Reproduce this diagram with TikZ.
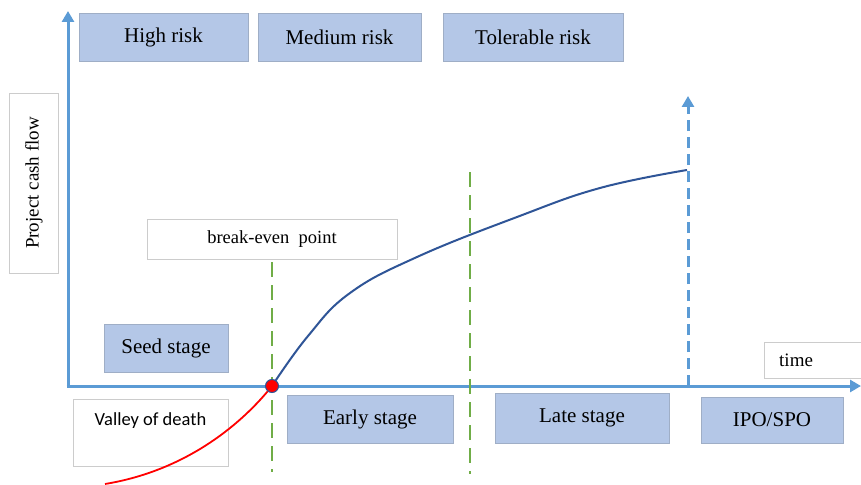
\documentclass[tikz,border=0pt]{standalone}
\usepackage{fontspec}
\setmainfont{Liberation Serif}
\newfontfamily\calibri{Carlito}
\usetikzlibrary{arrows.meta}

\definecolor{axisblue}{HTML}{5B9BD5}
\definecolor{boxfill}{HTML}{B4C7E7}
\definecolor{boxline}{HTML}{9FAEC6}
\definecolor{stagegreen}{HTML}{70AD47}
\definecolor{flowblue}{HTML}{2F5597}

\begin{document}
\begin{tikzpicture}[x=1pt, y=-1pt, >={Triangle[width=12pt,length=11pt]},
    riskbox/.style={draw=boxline, fill=boxfill, rectangle, inner sep=0pt, font=\fontsize{21}{24}\selectfont},
    plainbox/.style={draw=gray!40, fill=white, rectangle, inner sep=0pt},
    axis/.style={axisblue, line width=3pt},
    stageline/.style={stagegreen, line width=2.6pt, dash pattern=on 15pt off 8pt}]
    \useasboundingbox (0,0) rectangle (861,484);

    % risk levels
    \node[riskbox, minimum width=169pt, minimum height=48pt] (high) at (163.5,37) {High risk};
    \node[riskbox, minimum width=163pt, minimum height=48pt] (medium) at (339.5,37) {Medium risk};
    \node[riskbox, minimum width=180pt, minimum height=48pt] (tolerable) at (533,37) {Tolerable risk};

    % labels
    \node[plainbox, minimum width=180pt, minimum height=49pt, rotate=90, font=\fontsize{19}{22}\selectfont] (cashflow) at (34,183) {Project cash flow};
    \node[plainbox, minimum width=250pt, minimum height=40pt, font=\fontsize{18.5}{22}\selectfont] (breakeven) at (272,239) {break-even \ point};
    \node[plainbox, anchor=west, text width=67pt, inner xsep=15pt, minimum height=36pt, align=left, font=\fontsize{19}{22}\selectfont] (time) at (764,360) {time};
    \node[plainbox, minimum width=155pt, text height=21pt, text depth=36pt, inner ysep=5pt, font=\calibri\fontsize{18.5}{22}\selectfont] (valley) at (150.5,432.5) {Valley of death};

    % stages
    \node[riskbox, minimum width=124pt, minimum height=48pt] (seed) at (166,348) {Seed stage};
    \node[riskbox, minimum width=166pt, minimum height=48pt] (early) at (370,419) {Early stage};
    \node[riskbox, minimum width=174pt, minimum height=50pt] (late) at (582,418) {Late stage};
    \node[riskbox, minimum width=142pt, minimum height=46pt] (ipo) at (772,420) {IPO/SPO};

    % axes
    \coordinate (origin) at (68,386);
    \coordinate (ytip) at (68,11);
    \coordinate (xtip) at (861,386);
    \draw[axis, ->] (68,387.5) -- (ytip);
    \draw[axis, ->] (66.5,386) -- (xtip);

    % stage borders
    \coordinate (g1top) at (272,262);
    \coordinate (g1bot) at (272,472);
    \coordinate (g2top) at (470,172);
    \coordinate (g2bot) at (470,474);
    \draw[stageline] (g1top) -- (g1bot);
    \draw[stageline] (g2top) -- (g2bot);

    \coordinate (ipobase) at (688,386);
    \coordinate (ipotip) at (688,96);
    \draw[axisblue, line width=3pt, dash pattern=on 11pt off 6pt, ->] (ipobase) -- (ipotip);

    % cash flow curve
    \coordinate (start) at (105,484);
    \coordinate (bep) at (272,386);
    \draw[red, line width=1.8pt] (start) .. controls (190,470) and (245,420) .. (bep);
    \draw[flowblue, line width=2pt] plot[smooth, tension=0.7] coordinates {(272,386) (308,336) (350,293) (417,257) (517,217) (600,188) (687,170)};
    \node[circle, fill=red, draw=flowblue, line width=1pt, minimum size=13pt, inner sep=0pt] (bepdot) at (bep) {};
\end{tikzpicture}
\end{document}
